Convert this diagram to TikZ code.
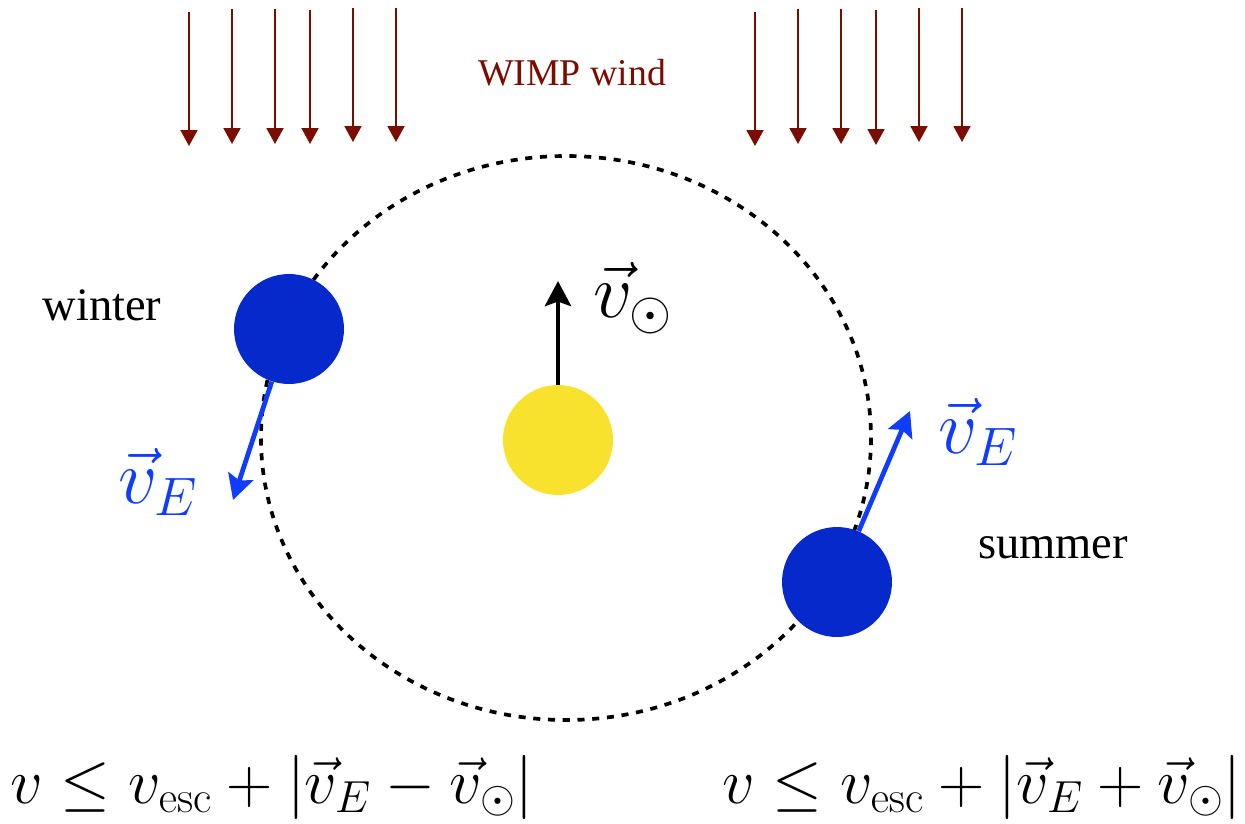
\RequirePackage{fix-cm}
\documentclass[tikz,border=0pt]{standalone}
\usepackage{amsmath}
\usepackage[no-math]{fontspec}
\newfontfamily\timesfont{Liberation Serif}
\usetikzlibrary{arrows.meta, positioning, shapes.geometric}

\definecolor{windred}{RGB}{122,12,0}
\definecolor{earthblue}{RGB}{6,41,204}
\definecolor{vblue}{RGB}{16,60,255}
\definecolor{sunyellow}{RGB}{249,226,46}

\begin{document}
\begin{tikzpicture}[
    x=0.02cm, y=-0.02cm,
    windarrow/.style={-{Triangle[length=3.2mm, width=3.4mm]}, line width=1.1pt, draw=windred},
    body/.style={circle, minimum size=2.2cm, inner sep=0pt},
    earth/.style={body, fill=earthblue},
    sun/.style={body, fill=sunyellow},
    velarrow/.style={-{Stealth[length=5mm, width=5.2mm, inset=0.9mm]}, line width=2.7pt},
    season/.style={font=\timesfont\fontsize{26.5}{30}\selectfont},
    veclabel/.style={font=\fontsize{44}{50}\selectfont},
    bound/.style={font=\fontsize{36.5}{42}\selectfont},
]
\useasboundingbox (0,0) rectangle (1245,823);

% Orbit
\draw[line width=2.1pt, dash pattern=on 4pt off 4.4pt] (566,438) ellipse [x radius=305, y radius=282];

% Sun and Earth
\node[sun] (sol) at (558,440) {};
\node[earth] (winter) at (289,329) {};
\node[earth] (summer) at (837,582) {};

% WIMP wind
\foreach \x/\t/\b [count=\i] in {189/12/146, 232/9/144, 275/9/144, 310/10/144, 353/8/142, 396/8/142,
                              755/12/146, 798/9/144, 841/9/144, 876/10/145, 919/8/142, 962/8/142}{
  \coordinate (w\i a) at (\x,\t);
  \coordinate (w\i b) at (\x,\b);
  \draw[windarrow] (w\i a) -- (w\i b);
}
\node[font=\timesfont\fontsize{21.5}{26}\selectfont, text=windred] (wind) at (572,73) {WIMP wind};

% Velocities
\coordinate (vsol) at (558,281);
\coordinate (vEw) at (233,500);
\coordinate (vEs) at (910,411);
\draw[velarrow, draw=black] (sol) -- (vsol);
\draw[velarrow, draw=vblue] (winter) -- (vEw);
\draw[velarrow, draw=vblue] (summer) -- (vEs);

\node[veclabel] (lsol) at (633,298) {$\vec{v}_{\odot}$};
\node[veclabel, text=vblue] (lEw) at (158,482) {$\vec{v}_E$};
\node[veclabel, text=vblue] (lEs) at (978,432) {$\vec{v}_E$};

% Seasons
\node[season] (lwinter) at (102,305) {winter};
\node[season] (lsummer) at (1053,548) {summer};

% Bounds
\node[bound] (bwinter) at (272,787) {$v \le v_{\mathrm{esc}} + \left|\vec{v}_E - \vec{v}_{\odot}\right|$};
\node[bound] (bsummer) at (982,787) {$v \le v_{\mathrm{esc}} + \left|\vec{v}_E + \vec{v}_{\odot}\right|$};

\end{tikzpicture}
\end{document}
